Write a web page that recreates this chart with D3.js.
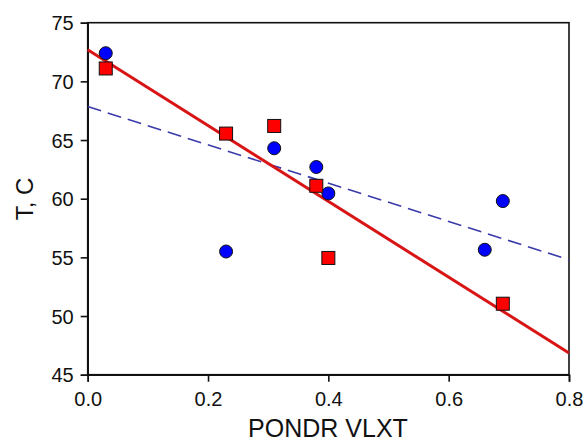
<!DOCTYPE html>
<html><head><meta charset="utf-8">
<script src="https://cdn.jsdelivr.net/npm/d3@7"></script>
<style>body{margin:0;background:#fff}svg{display:block}text{font-family:"Liberation Sans",Arial,sans-serif;fill:#111}</style>
</head><body>
<svg id="c" width="585" height="444"></svg>
<script>
const circleX = [0.03, 0.23, 0.31, 0.38, 0.40, 0.66, 0.69];
const circleY = [72.4, 55.5, 64.3, 62.7, 60.45, 55.65, 59.8];
const squareX = [0.03, 0.23, 0.31, 0.38, 0.40, 0.69];
const squareY = [71.1, 65.55, 66.2, 61.1, 54.95, 51.05];
const redLineX = [0.0, 0.8];
const redLineY = [72.7, 46.85];
const blueLineX = [0.0, 0.8];
const blueLineY = [67.85, 54.8];
const xTicks = [0.0, 0.2, 0.4, 0.6, 0.8];
const yTicks = [45, 50, 55, 60, 65, 70, 75];
const xTitle = "PONDR VLXT";
const yTitle = "T, C";

const L = 87.7, R = 569, T = 22.7, B = 374.7;
const svg = d3.select("#c");
const x = d3.scaleLinear().domain([0, 0.8]).range([L, R]);
const y = d3.scaleLinear().domain([45, 75]).range([B, T]);

// frame
svg.append("rect").attr("x", L).attr("y", T).attr("width", R - L).attr("height", B - T)
  .attr("fill", "none").attr("stroke", "#111").attr("stroke-width", 1.6);

const xa = svg.append("g").attr("transform", `translate(0,${B})`)
  .call(d3.axisBottom(x).tickValues(xTicks).tickFormat(d3.format(".1f")).tickSize(7).tickPadding(10));
const ya = svg.append("g").attr("transform", `translate(${L},0)`)
  .call(d3.axisLeft(y).tickValues(yTicks).tickSize(7).tickPadding(7));
[xa, ya].forEach(a => {
  a.select(".domain").attr("stroke", "#111").attr("stroke-width", 1.6);
  a.selectAll(".tick line").attr("stroke", "#111").attr("stroke-width", 1.6);
  a.selectAll(".tick text").attr("font-size", 20).attr("font-family", "Liberation Sans, Arial, sans-serif").attr("fill", "#111");
});
ya.selectAll(".tick text").attr("dy", "0.36em");

// lines
const line = d3.line().x(d => x(d[0])).y(d => y(d[1]));
svg.append("path").datum(blueLineX.map((v, i) => [v, blueLineY[i]]))
  .attr("d", line).attr("fill", "none").attr("stroke", "#3a3aaa").attr("stroke-width", 1.6)
  .attr("stroke-dasharray", "14,7");
svg.append("path").datum(redLineX.map((v, i) => [v, redLineY[i]]))
  .attr("d", line).attr("fill", "none").attr("stroke", "#d81414").attr("stroke-width", 3);

// markers
svg.append("g").selectAll("circle").data(circleX.map((v, i) => [v, circleY[i]])).join("circle")
  .attr("cx", d => x(d[0])).attr("cy", d => y(d[1])).attr("r", 6.5)
  .attr("fill", "#0000ff").attr("stroke", "#111").attr("stroke-width", 1);
const s = 13;
svg.append("g").selectAll("rect").data(squareX.map((v, i) => [v, squareY[i]])).join("rect")
  .attr("x", d => x(d[0]) - s / 2).attr("y", d => y(d[1]) - s / 2).attr("width", s).attr("height", s)
  .attr("fill", "#ff0000").attr("stroke", "#111").attr("stroke-width", 1);

// titles
svg.append("text").attr("x", 328).attr("y", 437).attr("text-anchor", "middle")
  .attr("font-size", 25).text(xTitle);
svg.append("text").attr("transform", "translate(33,199) rotate(-90)").attr("text-anchor", "middle")
  .attr("font-size", 24).text(yTitle);
</script>
</body></html>
